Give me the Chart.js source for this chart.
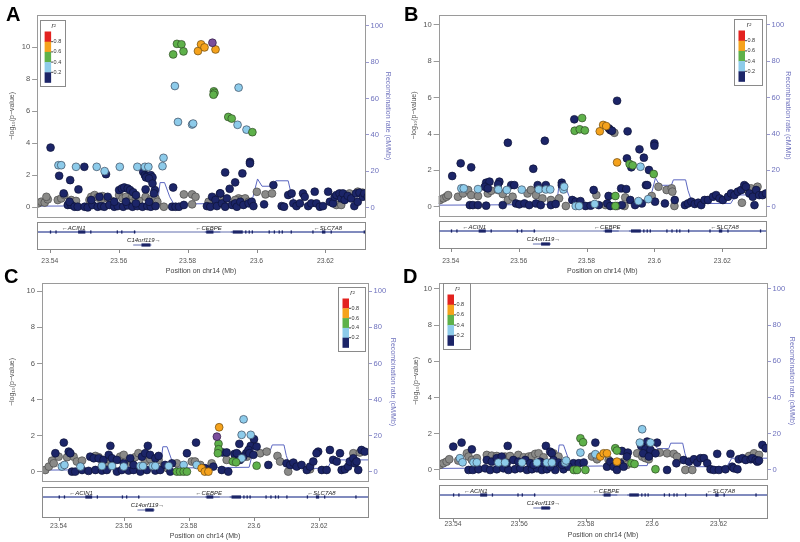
<!DOCTYPE html>
<html>
<head>
<meta charset="utf-8">
<script src="https://cdn.jsdelivr.net/npm/chart.js@4.4.1/dist/chart.umd.min.js"></script>
<style>
  html, body { margin: 0; padding: 0; background: #fff; width: 800px; height: 542px; overflow: hidden; position: relative; }
  .panel { position: absolute; width: 400px; height: 285px; }
  .tag { position: absolute; font: bold 20px 'Liberation Sans', Arial, sans-serif; line-height: 20px; color: #000; }
</style>
</head>
<body>
<div class="panel" style="left:0;top:0"><canvas id="cA" width="400" height="285"></canvas></div>
<div class="panel" style="left:400px;top:0"><canvas id="cB" width="400" height="285"></canvas></div>
<div class="panel" style="left:0;top:268px"><canvas id="cC" width="400" height="285"></canvas></div>
<div class="panel" style="left:400px;top:268px"><canvas id="cD" width="400" height="285"></canvas></div>
<div class="tag" style="left:6px;top:4px">A</div>
<div class="tag" style="left:404px;top:4px">B</div>
<div class="tag" style="left:4px;top:266px">C</div>
<div class="tag" style="left:403px;top:266px">D</div>
<script>
// --- LD classes: 0 <0.2, 1 0.2-0.4, 2 0.4-0.6, 3 0.6-0.8, 4 0.8-1, 5 no LD info, 6 index SNP ---
const ldNames = ['r2 < 0.2', '0.2-0.4', '0.4-0.6', '0.6-0.8', '0.8-1', 'no LD', 'index'];
const ldColors = ['#1c2568', '#8dcbea', '#5eb14a', '#f5a21c', '#e3221f', '#8a8a88', '#7b4e9c'];
const ldBorders = ['#0d1238', '#3b4a5e', '#2f4a25', '#6b4a10', '#6b1010', '#4a4a4a', '#2c1a40'];
const legendLabels = ['0.2', '0.4', '0.6', '0.8'];

// --- axis ticks ---
const posTicks = [23.54, 23.56, 23.58, 23.60, 23.62];
const pTicks = [0, 2, 4, 6, 8, 10];
const recombTicks = [0, 20, 40, 60, 80, 100];

// --- recombination rate (cM/Mb), same map in every panel ---
const recombPos = [23.5300, 23.5500, 23.5660, 23.5668, 23.5675, 23.5712, 23.5720, 23.5733, 23.5748, 23.5760, 23.5850,
  23.5985, 23.6003, 23.6016, 23.6050, 23.6056, 23.6092, 23.6099, 23.6112, 23.6225, 23.6240, 23.6400];
const recombRate = [0.8, 1.0, 1.2, 3.0, 1.3, 1.5, 13.8, 13.8, 6.0, 2.0, 2.2,
  2.4, 15.8, 11.8, 11.8, 14.8, 14.8, 9.0, 1.8, 1.8, 6.5, 6.5];

// --- genes ---
const geneNames = ['ACIN1', 'CEBPE', 'SLC7A8', 'C14orf119'];
const geneStart = [23.5200, 23.5850, 23.5925, 23.5642];
const geneEnd = [23.5650, 23.5895, 23.6500, 23.5695];
const geneRow = [0, 0, 0, 1];
const geneStrand = [-1, -1, -1, 1];
const geneLabelPos = [23.5469, 23.5861, 23.6207, 23.5673];
const exonStart = [23.5400, 23.5416, 23.5482, 23.5517, 23.5594, 23.5607, 23.5644, 23.5854, 23.5931, 23.5967, 23.5977,
  23.5986, 23.6035, 23.6050, 23.6064, 23.6073, 23.6099, 23.6162, 23.6190, 23.6215, 23.6311, 23.5666];
const exonEnd = [23.5401, 23.5417, 23.5503, 23.5518, 23.5595, 23.5608, 23.5646, 23.5875, 23.5960, 23.5968, 23.5978,
  23.5987, 23.6036, 23.6051, 23.6065, 23.6074, 23.6100, 23.6163, 23.6200, 23.6216, 23.6312, 23.5692];
const exonRow = [0, 0, 0, 0, 0, 0, 0, 0, 0, 0, 0, 0, 0, 0, 0, 0, 0, 0, 0, 0, 0, 1];

// --- SNPs: [position (Mb), -log10 p, LD class] ---
const snpsA = [
  [23.5758,9.54,2],[23.5769,10.20,2],[23.5782,10.17,2],[23.5788,9.73,2],
  [23.5830,9.75,3],[23.5839,10.17,3],[23.5849,9.98,3],[23.5881,9.85,3],
  [23.5872,10.27,6],
  [23.5763,7.57,1],[23.5772,5.33,1],[23.5813,5.17,1],[23.5816,5.23,1],[23.5948,7.47,1],[23.5945,5.15,1],[23.5971,4.85,1],
  [23.5876,7.24,2],[23.5878,7.14,2],[23.5875,7.03,2],[23.5918,5.64,2],[23.5928,5.54,2],[23.5988,4.69,2],
  [23.5425,2.63,1],[23.5433,2.63,1],[23.5476,2.53,1],[23.5536,2.53,1],[23.5559,2.26,1],[23.5603,2.53,1],[23.5654,2.53,1],
  [23.5676,2.53,1],[23.5686,2.53,1],[23.5727,2.57,1],[23.5730,3.09,1],
  [23.5402,3.73,0],[23.5500,2.53,0],[23.5427,1.97,0],[23.5459,1.70,0],[23.5483,1.12,0],[23.5563,2.07,0],
  [23.5671,2.22,0],[23.5676,2.01,0],[23.5683,1.97,0],[23.5693,2.01,0],[23.5698,1.87,0],[23.5679,1.87,0],[23.5688,1.80,0],
  [23.5678,1.12,0],[23.5705,1.08,0],[23.5698,1.49,0],
  [23.5758,1.24,0],[23.5909,2.18,0],[23.5938,1.56,0],[23.5959,2.12,0],[23.5981,2.84,0],[23.5981,2.74,0],[23.5922,1.16,0],
  [23.5894,0.87,0],[23.6022,0.19,0],[23.6049,1.39,0],
  [23.5366,0.25,5],[23.5375,0.35,5],[23.5385,0.30,5],[23.5394,0.50,5],[23.5390,0.66,5],[23.5423,0.46,5],[23.5433,0.56,5],
  [23.5442,0.77,5],[23.5462,0.46,5],[23.5476,0.40,5],[23.5515,0.46,5],[23.5520,0.66,5],[23.5530,0.77,5],[23.5539,0.62,5],
  [23.5549,0.50,5],[23.5553,0.70,5],[23.5568,0.56,5],[23.5578,0.42,5],[23.5601,0.77,5],[23.5611,0.56,5],[23.5621,0.66,5],
  [23.5630,0.42,5],[23.5640,0.70,5],[23.5650,0.56,5],[23.5659,0.42,5],[23.5678,0.66,5],[23.5693,0.50,5],[23.5707,0.56,5],
  [23.5712,0.35,5],[23.5731,0.04,5],[23.5789,0.81,5],[23.5813,0.81,5],[23.5823,0.66,5],[23.5813,0.19,5],[23.5861,0.35,5],
  [23.5875,0.56,5],[23.5904,0.46,5],[23.5948,0.56,5],[23.5957,0.50,5],[23.5967,0.56,5],[23.5977,0.35,5],[23.5938,0.46,5],
  [23.6001,0.97,5],[23.6026,0.81,5],[23.6045,0.87,5],[23.6232,0.15,5],[23.6246,0.15,5],[23.6270,0.87,5],[23.6294,0.98,5],
  [23.6308,0.92,5],
  [23.5440,0.87,0],[23.5452,0.15,0],[23.5462,0.15,0],[23.5457,0.35,0],[23.5472,0.04,0],[23.5481,0.04,0],[23.5501,0.04,0],
  [23.5510,0.00,0],[23.5524,0.15,0],[23.5539,0.04,0],[23.5549,0.08,0],[23.5558,0.04,0],[23.5573,0.15,0],[23.5587,0.04,0],
  [23.5597,0.08,0],[23.5613,0.04,0],[23.5626,0.12,0],[23.5640,0.04,0],[23.5654,0.08,0],[23.5669,0.04,0],[23.5683,0.08,0],
  [23.5693,0.04,0],[23.5707,0.08,0],[23.5520,0.46,0],[23.5544,0.66,0],[23.5568,0.66,0],[23.5587,0.35,0],[23.5621,0.35,0],
  [23.5650,0.25,0],[23.5688,0.35,0],[23.5702,0.87,0],
  [23.5601,1.08,0],[23.5609,1.18,0],[23.5616,1.24,0],[23.5626,1.18,0],[23.5633,1.08,0],[23.5642,0.94,0],[23.5650,0.77,0],
  [23.5755,0.04,0],[23.5765,0.04,0],[23.5775,0.04,0],[23.5789,0.15,0],
  [23.5856,0.08,0],[23.5866,0.04,0],[23.5871,0.66,0],[23.5881,0.46,0],[23.5885,0.08,0],[23.5895,0.87,0],[23.5900,0.25,0],
  [23.5909,0.04,0],[23.5914,0.56,0],[23.5929,0.15,0],[23.5938,0.25,0],[23.5943,0.04,0],[23.5953,0.35,0],[23.5962,0.15,0],
  [23.5977,0.25,0],[23.5986,0.35,0],[23.5991,0.08,0],
  [23.6073,0.08,0],[23.6080,0.04,0],[23.6092,0.77,0],[23.6102,0.87,0],[23.6107,0.25,0],[23.6116,0.08,0],[23.6126,0.25,0],
  [23.6135,0.87,0],[23.6140,0.66,0],[23.6150,0.08,0],[23.6159,0.25,0],[23.6169,0.98,0],[23.6174,0.25,0],[23.6184,0.04,0],
  [23.6193,0.08,0],[23.6208,0.98,0],[23.6213,0.35,0],[23.6222,0.25,0],[23.6227,0.66,0],[23.6232,0.77,0],[23.6241,0.87,0],
  [23.6246,0.56,0],[23.6251,0.87,0],[23.6256,0.46,0],[23.6265,0.72,0],[23.6275,0.56,0],[23.6284,0.08,0],[23.6289,0.87,0],
  [23.6294,0.35,0],[23.6299,0.92,0],[23.6309,0.66,0],[23.6313,0.87,0],[23.6323,0.66,0]
];

const snpsB = [
  [23.5890,5.83,0],[23.5764,4.81,0],[23.5921,4.15,0],[23.5866,4.31,0],[23.5870,4.22,0],[23.5875,4.18,0],[23.5568,3.52,0],
  [23.5677,3.63,0],[23.6000,3.49,0],[23.6000,3.36,0],[23.5956,3.16,0],[23.5919,2.66,0],[23.5969,2.70,0],[23.5429,2.39,0],
  [23.5460,2.17,0],[23.5643,2.09,0],[23.5404,1.69,0],[23.5984,2.02,0],[23.5975,1.19,0],[23.5932,2.17,0],
  [23.5882,4.07,5],
  [23.5787,4.88,2],[23.5765,4.18,2],[23.5780,4.26,2],[23.5795,4.20,2],[23.5927,2.35,2],[23.5936,2.28,2],[23.5998,1.80,2],
  [23.5885,0.59,2],[23.5885,0.04,2],
  [23.5849,4.50,3],[23.5858,4.44,3],[23.5839,4.15,3],[23.5890,2.44,3],
  [23.5959,2.20,1],[23.5431,1.01,1],[23.5438,1.01,1],[23.5480,0.97,1],[23.5540,0.95,1],[23.5565,0.92,1],[23.5609,0.94,1],
  [23.5659,0.95,1],[23.5680,0.95,1],[23.5693,0.95,1],[23.5732,0.95,1],[23.5734,1.10,1],[23.5768,0.04,1],[23.5778,0.04,1],
  [23.5824,0.15,1],[23.5953,0.31,1],[23.5982,0.42,1],
  [23.5368,0.37,5],[23.5378,0.46,5],[23.5387,0.55,5],[23.5392,0.64,5],[23.5421,0.55,5],[23.5436,0.73,5],[23.5451,0.92,5],
  [23.5460,0.64,5],[23.5480,0.59,5],[23.5509,0.73,5],[23.5519,0.88,5],[23.5539,0.92,5],[23.5553,0.70,5],[23.5568,0.37,5],
  [23.5582,0.55,5],[23.5626,0.73,5],[23.5636,0.92,5],[23.5651,0.64,5],[23.5670,0.46,5],[23.5695,0.37,5],[23.5719,0.46,5],
  [23.5739,0.04,5],[23.5829,0.64,5],[23.5856,0.09,5],[23.5890,0.04,5],[23.5914,0.51,5],[23.5912,0.04,5],[23.5992,0.59,5],
  [23.6012,1.10,5],[23.6036,0.92,5],[23.6051,1.01,5],[23.6053,0.83,5],[23.6059,0.04,5],[23.6258,0.22,5],[23.6275,0.92,5],
  [23.6285,1.01,5],[23.6304,1.10,5],
  [23.5504,1.32,0],[23.5514,1.38,0],[23.5543,1.38,0],[23.5539,1.23,0],[23.5500,1.10,0],[23.5509,1.01,0],[23.5578,1.19,0],
  [23.5587,1.19,0],[23.5656,1.19,0],[23.5680,1.19,0],[23.5727,1.32,0],[23.5727,1.19,0],[23.5821,0.92,0],[23.5865,0.59,0],
  [23.5902,1.01,0],[23.5917,0.97,0],[23.5979,1.19,0],
  [23.5456,0.09,0],[23.5465,0.09,0],[23.5480,0.09,0],[23.5504,0.06,0],[23.5553,0.09,0],[23.5592,0.18,0],[23.5602,0.13,0],
  [23.5617,0.18,0],[23.5631,0.09,0],[23.5651,0.18,0],[23.5665,0.09,0],[23.5695,0.09,0],[23.5709,0.15,0],[23.5758,0.37,0],
  [23.5768,0.28,0],[23.5782,0.31,0],[23.5797,0.04,0],[23.5812,0.06,0],[23.5836,0.09,0],[23.5861,0.18,0],[23.5870,0.04,0],
  [23.5904,0.09,0],[23.5929,0.37,0],[23.5943,0.09,0],[23.5963,0.18,0],[23.6002,0.28,0],[23.6031,0.18,0],[23.6060,0.37,0],
  [23.6090,0.09,0],[23.6099,0.18,0],[23.6109,0.28,0],[23.6119,0.15,0],[23.6129,0.22,0],[23.6138,0.09,0],[23.6148,0.37,0],
  [23.6158,0.37,0],[23.6173,0.55,0],[23.6182,0.64,0],[23.6192,0.46,0],[23.6202,0.37,0],[23.6217,0.55,0],[23.6226,0.73,0],
  [23.6236,0.64,0],[23.6246,0.83,0],[23.6256,0.92,0],[23.6265,1.19,0],[23.6270,1.10,0],[23.6280,0.73,0],[23.6290,0.55,0],
  [23.6295,0.09,0],[23.6300,0.92,0],[23.6309,0.64,0],[23.6319,0.64,0],[23.6329,0.73,0]
];

const snpsC = [
  [23.5893,2.46,3],[23.5839,0.19,3],[23.5849,0.00,3],[23.5860,0.00,3],
  [23.5886,1.94,6],
  [23.5891,1.54,2],[23.5891,1.24,2],[23.5889,1.02,2],[23.5763,0.00,2],[23.5773,0.00,2],[23.5784,0.00,2],[23.5794,0.00,2],
  [23.5935,0.56,2],[23.5945,0.52,2],[23.6008,0.33,2],
  [23.5968,2.90,1],[23.5962,2.04,1],[23.5990,2.04,1],[23.5410,0.28,1],[23.5418,0.37,1],[23.5467,0.28,1],[23.5533,0.31,1],
  [23.5564,0.31,1],[23.5600,0.28,1],[23.5651,0.31,1],[23.5659,0.31,1],[23.5689,0.31,1],[23.5697,0.31,1],[23.5738,0.31,1],
  [23.5784,0.37,1],[23.5824,0.37,1],[23.5962,0.74,1],
  [23.5359,0.09,5],[23.5370,0.28,5],[23.5380,0.61,5],[23.5385,0.46,5],[23.5400,0.83,5],[23.5426,0.80,5],[23.5446,0.83,5],
  [23.5456,0.56,5],[23.5472,0.61,5],[23.5513,0.87,5],[23.5523,0.80,5],[23.5533,0.65,5],[23.5543,0.50,5],[23.5554,0.69,5],
  [23.5589,0.83,5],[23.5600,0.93,5],[23.5615,0.56,5],[23.5625,0.65,5],[23.5635,0.80,5],[23.5645,1.02,5],[23.5666,0.56,5],
  [23.5681,0.69,5],[23.5707,0.65,5],[23.5722,0.28,5],[23.5734,0.19,5],[23.5763,0.46,5],[23.5809,0.56,5],[23.5819,0.56,5],
  [23.5835,0.37,5],[23.5870,0.46,5],[23.5916,0.65,5],[23.5942,0.74,5],[23.5952,0.93,5],[23.5978,0.83,5],[23.6019,1.02,5],
  [23.6039,1.11,5],[23.6072,0.87,5],[23.6080,0.56,5],[23.6105,0.00,5],[23.6172,0.13,5],[23.6305,1.02,5],[23.6325,1.06,5],
  [23.5416,1.61,0],[23.5390,1.02,0],[23.5431,1.11,0],[23.5436,1.02,0],[23.5559,1.43,0],[23.5674,1.43,0],[23.5822,1.61,0],
  [23.5955,1.54,0],[23.5990,1.43,0],[23.6008,1.39,0],[23.5904,1.06,0],[23.5916,1.06,0],[23.5976,1.02,0],[23.5983,1.20,0],
  [23.5940,0.98,0],[23.6044,0.37,0],[23.6000,1.80,0],
  [23.5441,0.00,0],[23.5451,0.00,0],[23.5472,0.09,0],[23.5492,0.04,0],[23.5513,0.09,0],[23.5533,0.06,0],[23.5548,0.09,0],
  [23.5579,0.00,0],[23.5594,0.09,0],[23.5615,0.06,0],[23.5630,0.09,0],[23.5651,0.00,0],[23.5671,0.09,0],[23.5697,0.06,0],
  [23.5712,0.09,0],[23.5743,0.00,0],
  [23.5497,0.83,0],[23.5508,0.74,0],[23.5523,0.74,0],[23.5538,0.65,0],[23.5554,0.93,0],[23.5564,0.74,0],[23.5579,0.65,0],
  [23.5600,0.46,0],[23.5620,0.74,0],[23.5630,0.37,0],[23.5656,0.83,0],[23.5666,1.02,0],[23.5681,0.93,0],[23.5697,0.74,0],
  [23.5707,0.87,0],[23.5727,0.37,0],[23.5748,0.46,0],[23.5794,1.02,0],[23.5850,0.19,0],[23.5875,0.28,0],[23.5901,0.09,0],
  [23.5921,0.00,0],[23.5947,1.02,0],[23.5957,0.65,0],[23.5967,0.83,0],[23.5986,1.02,0],[23.5998,0.93,0],
  [23.6100,0.46,0],[23.6111,0.37,0],[23.6121,0.50,0],[23.6131,0.28,0],[23.6146,0.37,0],[23.6162,0.09,0],[23.6172,0.28,0],
  [23.6182,0.56,0],[23.6197,1.11,0],[23.6192,1.02,0],[23.6208,0.09,0],[23.6223,0.09,0],[23.6233,1.20,0],[23.6243,0.65,0],
  [23.6254,0.56,0],[23.6264,1.02,0],[23.6269,0.09,0],[23.6279,0.13,0],[23.6289,0.28,0],[23.6294,0.56,0],[23.6305,0.74,0],
  [23.6310,0.46,0],[23.6315,0.56,0],[23.6320,0.09,0],[23.6330,1.20,0],[23.6340,1.11,0]
];

const snpsD = [
  [23.5970,2.25,1],[23.5963,1.51,1],[23.5995,1.51,1],[23.5784,0.96,1],[23.5829,0.87,1],[23.5421,0.65,1],[23.5429,0.42,1],
  [23.5462,0.42,1],[23.5472,0.42,1],[23.5537,0.41,1],[23.5557,0.41,1],[23.5608,0.41,1],[23.5653,0.41,1],[23.5683,0.41,1],
  [23.5698,0.41,1],[23.5738,0.41,1],[23.5741,0.52,1],[23.5769,0.00,1],
  [23.5784,1.75,2],[23.5792,1.53,2],[23.5889,1.20,2],[23.5894,1.07,2],[23.5764,0.00,2],[23.5774,0.00,2],[23.5799,0.00,2],
  [23.5938,0.37,2],[23.5947,0.33,2],[23.6010,0.04,2],
  [23.5844,0.74,3],[23.5854,0.92,3],[23.5864,0.92,3],[23.5894,0.46,3],
  [23.5361,0.28,5],[23.5371,0.37,5],[23.5381,0.46,5],[23.5389,0.59,5],[23.5416,0.52,5],[23.5442,0.92,5],[23.5447,0.74,5],
  [23.5457,0.55,5],[23.5472,0.65,5],[23.5502,0.83,5],[23.5517,0.79,5],[23.5532,0.77,5],[23.5542,0.55,5],[23.5557,0.74,5],
  [23.5572,0.77,5],[23.5597,0.83,5],[23.5613,0.70,5],[23.5628,0.74,5],[23.5638,0.77,5],[23.5648,0.89,5],[23.5658,0.92,5],
  [23.5673,0.70,5],[23.5703,0.92,5],[23.5718,0.74,5],[23.5738,0.18,5],[23.5819,0.74,5],[23.5834,0.59,5],[23.5869,0.55,5],
  [23.5914,0.46,5],[23.5924,0.28,5],[23.5955,0.92,5],[23.5970,0.74,5],[23.5980,0.65,5],[23.5990,0.59,5],[23.6003,0.96,5],
  [23.6023,0.96,5],[23.6045,0.92,5],[23.6065,0.89,5],[23.6075,0.74,5],[23.6100,0.00,5],[23.6121,0.00,5],[23.6292,0.77,5],
  [23.6307,0.92,5],[23.6322,0.83,5],
  [23.5426,1.51,0],[23.5401,1.29,0],[23.5457,1.14,0],[23.5565,1.33,0],[23.5680,1.33,0],[23.5829,1.51,0],[23.5693,1.01,0],
  [23.5698,0.92,0],[23.5909,1.05,0],[23.5927,0.96,0],[23.5985,1.57,0],[23.6015,1.51,0],[23.5967,1.33,0],[23.5980,1.14,0],
  [23.5973,0.92,0],[23.5995,1.11,0],[23.6010,0.92,0],[23.5990,0.74,0],[23.6045,0.00,0],[23.6073,0.37,0],[23.6196,0.89,0],
  [23.6236,0.89,0],[23.6332,1.38,0],[23.6342,1.20,0],
  [23.5447,0.00,0],[23.5460,0.00,0],[23.5477,0.04,0],[23.5497,0.09,0],[23.5512,0.00,0],[23.5532,0.04,0],[23.5552,0.09,0],
  [23.5567,0.00,0],[23.5587,0.04,0],[23.5603,0.09,0],[23.5623,0.00,0],[23.5638,0.04,0],[23.5653,0.09,0],[23.5668,0.00,0],
  [23.5683,0.04,0],[23.5708,0.00,0],[23.5733,0.04,0],[23.5763,0.37,0],[23.5779,0.37,0],[23.5794,0.41,0],
  [23.5502,0.55,0],[23.5517,0.46,0],[23.5532,0.65,0],[23.5547,0.74,0],[23.5562,0.37,0],[23.5582,0.55,0],[23.5597,0.46,0],
  [23.5618,0.55,0],[23.5633,0.37,0],[23.5643,0.28,0],[23.5663,0.46,0],[23.5673,0.37,0],[23.5693,0.18,0],[23.5703,0.55,0],
  [23.5718,0.41,0],[23.5728,0.28,0],[23.5748,0.18,0],
  [23.5864,0.18,0],[23.5874,0.46,0],[23.5884,0.18,0],[23.5894,0.00,0],[23.5904,0.37,0],[23.5914,0.18,0],[23.5924,0.74,0],
  [23.6095,0.55,0],[23.6111,0.46,0],[23.6126,0.59,0],[23.6136,0.41,0],[23.6146,0.65,0],[23.6156,0.65,0],[23.6166,0.37,0],
  [23.6176,0.04,0],[23.6186,0.00,0],[23.6201,0.00,0],[23.6221,0.04,0],[23.6241,0.18,0],[23.6246,0.09,0],[23.6257,0.04,0],
  [23.6261,0.59,0],[23.6272,0.65,0],[23.6282,0.55,0],[23.6297,0.59,0],[23.6302,0.65,0],[23.6312,0.55,0],[23.6317,0.46,0],
  [23.6322,0.52,0]
];

const FONT = "'Liberation Sans', Arial, sans-serif";
const recombColor = '#5b66c0';
const axisBlue = '#6d70bd';

// plot frame
const framePlugin = {
  id: 'frame',
  afterDatasetsDraw(chart) {
    const { ctx, chartArea: a } = chart;
    ctx.save();
    ctx.strokeStyle = '#9a9a9a';
    ctx.lineWidth = 1;
    ctx.strokeRect(Math.round(a.left) + 0.5, Math.round(a.top) + 0.5, Math.round(a.right - a.left), Math.round(a.bottom - a.top));
    ctx.restore();
  }
};

// r2 legend box
const ldLegendPlugin = {
  id: 'ldLegend',
  afterDatasetsDraw(chart, args, opts) {
    const { ctx, chartArea: a } = chart;
    const w = opts.w, h = opts.h;
    const bx = opts.side === 'left' ? a.left + opts.dx : a.right - opts.dx - w;
    const by = a.top + opts.dy;
    ctx.save();
    ctx.fillStyle = '#fff';
    ctx.fillRect(bx, by, w, h);
    ctx.strokeStyle = '#8a8a8a';
    ctx.lineWidth = 1;
    ctx.strokeRect(Math.round(bx) + 0.5, Math.round(by) + 0.5, w, h);
    const barX = bx + 4.5, barW = 6.5, barTop = by + 11.5, seg = (h - 15) / 5;
    for (let i = 0; i < 5; i++) {
      ctx.fillStyle = ldColors[4 - i];
      ctx.fillRect(barX, barTop + i * seg, barW, seg + 0.3);
    }
    ctx.fillStyle = '#333';
    ctx.font = 'italic 6.5px ' + FONT;
    ctx.textAlign = 'center';
    ctx.textBaseline = 'middle';
    ctx.fillText('r\u00b2', bx + w / 2 + 1, by + 6);
    ctx.font = '5.5px ' + FONT;
    ctx.textAlign = 'left';
    ctx.strokeStyle = '#444';
    for (let i = 0; i < legendLabels.length; i++) {
      const yy = barTop + (4 - i) * seg;
      ctx.beginPath();
      ctx.moveTo(barX + barW, yy);
      ctx.lineTo(barX + barW + 2, yy);
      ctx.stroke();
      ctx.fillText(legendLabels[i], barX + barW + 2.5, yy);
    }
    ctx.restore();
  }
};

// gene track under the plot
const geneTrackPlugin = {
  id: 'geneTrack',
  afterDraw(chart, args, opts) {
    const { ctx, chartArea: a, scales: { x } } = chart;
    const top = Math.round(a.bottom) + opts.top, h = opts.h;
    const rowY = [top + 10, top + 23];
    const labY = [top + 6, top + 18.5];
    ctx.save();
    ctx.strokeStyle = '#8a8a8a';
    ctx.lineWidth = 1;
    ctx.strokeRect(Math.round(a.left) + 0.5, top + 0.5, Math.round(a.right - a.left), h);
    posTicks.forEach(v => {
      const px = Math.round(x.getPixelForValue(v)) + 0.5;
      ctx.beginPath();
      ctx.moveTo(px, top + h + 0.5);
      ctx.lineTo(px, top + h + 4);
      ctx.stroke();
    });
    ctx.beginPath();
    ctx.rect(a.left + 1, top + 1, a.right - a.left - 1, h - 1);
    ctx.clip();
    // backbone of the first row
    ctx.strokeStyle = '#3b4a9a';
    ctx.lineWidth = 0.8;
    ctx.beginPath();
    ctx.moveTo(a.left, rowY[0]);
    ctx.lineTo(a.right, rowY[0]);
    ctx.stroke();
    for (let g = 0; g < geneNames.length; g++) {
      const y = rowY[geneRow[g]];
      ctx.beginPath();
      ctx.moveTo(x.getPixelForValue(geneStart[g]), y);
      ctx.lineTo(x.getPixelForValue(geneEnd[g]), y);
      ctx.stroke();
    }
    ctx.fillStyle = '#1c2568';
    for (let e = 0; e < exonStart.length; e++) {
      const x1 = x.getPixelForValue(exonStart[e]);
      const x2 = Math.max(x.getPixelForValue(exonEnd[e]), x1 + 1.3);
      const y = rowY[exonRow[e]];
      ctx.fillRect(x1, y - 1.6, x2 - x1, 3.2);
    }
    ctx.fillStyle = '#222';
    ctx.font = 'italic 6px ' + FONT;
    ctx.textAlign = 'center';
    ctx.textBaseline = 'middle';
    for (let g = 0; g < geneNames.length; g++) {
      const txt = geneStrand[g] < 0 ? '\u2190' + geneNames[g] : geneNames[g] + '\u2192';
      ctx.fillText(txt, x.getPixelForValue(geneLabelPos[g]), labY[geneRow[g]]);
    }
    ctx.restore();
  }
};

const panels = [
  { id: 'cA', snps: snpsA, xMin: 23.5363, xMax: 23.6315, yMin: -0.6, yMax: 12.0, rMin: -5.1, rMax: 105.9,
    pad: { left: 3, right: 3, top: 15, bottom: 10 }, yW: 32, rW: 32, xH: 58, tickPad: 40, yTitlePad: 3, rTitlePad: 5,
    legend: { side: 'left', dx: 3, dy: 5, w: 25, h: 66 }, gene: { top: 5, h: 27 } },
  { id: 'cB', snps: snpsB, xMin: 23.5364, xMax: 23.6329, yMin: -0.51, yMax: 10.55, rMin: -5.1, rMax: 105.5,
    pad: { left: 3, right: 3, top: 15, bottom: 10 }, yW: 33, rW: 31, xH: 59, tickPad: 41, yTitlePad: 4.6, rTitlePad: 4.6,
    legend: { side: 'right', dx: 4, dy: 4, w: 28, h: 66 }, gene: { top: 5, h: 27 } },
  { id: 'cC', snps: snpsC, xMin: 23.5349, xMax: 23.6350, yMin: -0.52, yMax: 10.46, rMin: -5.2, rMax: 104.6,
    pad: { left: 3, right: 3, top: 15, bottom: 13 }, yW: 39, rW: 29, xH: 59, tickPad: 41, yTitlePad: 4.4, rTitlePad: 0,
    legend: { side: 'right', dx: 3, dy: 4, w: 27, h: 64 }, gene: { top: 6, h: 30 } },
  { id: 'cD', snps: snpsD, xMin: 23.5358, xMax: 23.6346, yMin: -0.5, yMax: 10.33, rMin: -5.0, rMax: 103.3,
    pad: { left: 3, right: 3, top: 15, bottom: 14 }, yW: 36, rW: 30, xH: 60, tickPad: 41, yTitlePad: 8.6, rTitlePad: 1.2,
    legend: { side: 'left', dx: 4, dy: 0, w: 27, h: 66 }, gene: { top: 6, h: 33 } }
];

const drawOrder = [6, 4, 3, 2, 1, 0, 5];

panels.forEach(p => {
  const datasets = drawOrder.map((k, i) => ({
    type: 'scatter',
    label: ldNames[k],
    data: p.snps.filter(s => s[2] === k).map(s => ({ x: s[0], y: s[1] })),
    backgroundColor: ldColors[k],
    borderColor: ldBorders[k],
    borderWidth: 0.7,
    pointRadius: 3.9,
    yAxisID: 'y',
    order: i
  }));
  datasets.push({
    type: 'line',
    label: 'Recombination rate',
    data: recombPos.map((v, i) => ({ x: v, y: recombRate[i] })),
    borderColor: recombColor,
    borderWidth: 1,
    pointRadius: 0,
    tension: 0,
    fill: false,
    yAxisID: 'y2',
    order: 20
  });

  new Chart(document.getElementById(p.id), {
    type: 'scatter',
    data: { datasets },
    options: {
      responsive: false,
      animation: false,
      events: [],
      layout: { padding: p.pad },
      plugins: {
        legend: { display: false },
        tooltip: { enabled: false },
        ldLegend: p.legend,
        geneTrack: p.gene
      },
      scales: {
        x: {
          type: 'linear',
          min: p.xMin,
          max: p.xMax,
          afterBuildTicks: s => { s.ticks = posTicks.map(v => ({ value: v })); },
          afterFit: s => { s.height = p.xH; },
          grid: { display: false, drawTicks: false },
          border: { display: false },
          ticks: {
            padding: p.tickPad,
            maxRotation: 0,
            autoSkip: false,
            color: '#555',
            font: { family: FONT, size: 6.8 },
            callback: v => String(+v.toFixed(2))
          },
          title: { display: true, text: 'Position on chr14 (Mb)', color: '#444', padding: 0, font: { family: FONT, size: 7 } }
        },
        y: {
          position: 'left',
          min: p.yMin,
          max: p.yMax,
          afterBuildTicks: s => { s.ticks = pTicks.map(v => ({ value: v })); },
          afterFit: s => { s.width = p.yW; },
          grid: { drawOnChartArea: false, drawTicks: true, tickLength: 5, color: '#999' },
          border: { display: false },
          ticks: { padding: 2, color: '#555', font: { family: FONT, size: 7.6 } },
          title: { display: true, text: '\u2212log\u2081\u2080(p\u2212value)', color: '#555', padding: { top: p.yTitlePad, bottom: 0 }, font: { family: FONT, size: 7 } }
        },
        y2: {
          position: 'right',
          min: p.rMin,
          max: p.rMax,
          afterBuildTicks: s => { s.ticks = recombTicks.map(v => ({ value: v })); },
          afterFit: s => { s.width = p.rW; },
          grid: { drawOnChartArea: false, drawTicks: true, tickLength: 4, color: '#9a9ad0' },
          border: { display: false },
          ticks: { padding: 1.5, color: axisBlue, font: { family: FONT, size: 7.6 } },
          title: { display: true, text: 'Recombination rate (cM/Mb)', color: axisBlue, padding: { top: p.rTitlePad, bottom: 0 }, font: { family: FONT, size: 7 } }
        }
      }
    },
    plugins: [framePlugin, ldLegendPlugin, geneTrackPlugin]
  });
});
</script>
</body>
</html>
